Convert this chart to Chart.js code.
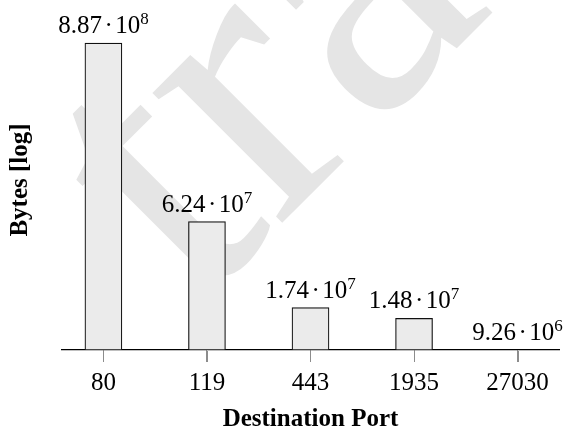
<!DOCTYPE html>
<html>
<head>
<meta charset="utf-8">
<script src="https://cdn.jsdelivr.net/npm/chart.js@4.4.1/dist/chart.umd.min.js"></script>
<style>
  html, body { margin: 0; padding: 0; background: #fff; }
  canvas { display: block; }
</style>
</head>
<body>
<canvas id="ports" width="569" height="432"></canvas>
<script>
(function () {
    'use strict';

    var ports = ['80', '119', '443', '1935', '27030'];
    var bytes = [8.87e8, 6.24e7, 1.74e7, 1.48e7, 9.26e6];
    var yMin = 9.26e6;
    var yMax = 1.45e9;
    var watermark = 'tra';

    var SERIF = '"Liberation Serif", "Times New Roman", serif';

    // big grey text behind the plot, like the page watermark
    var watermarkPlugin = {
        id: 'watermark',
        beforeDraw: function (chart) {
            var ctx = chart.ctx;
            ctx.save();
            ctx.fillStyle = '#fff';
            ctx.fillRect(0, 0, chart.width, chart.height);
            ctx.translate(198, 307);
            ctx.rotate(-Math.PI / 4);
            ctx.font = '400px ' + SERIF;
            ctx.fillStyle = '#e5e5e5';
            ctx.textBaseline = 'alphabetic';
            ctx.fillText(watermark, 0, 0);
            ctx.restore();
        }
    };

    // small grey tick marks under the axis, at the scale's own tick positions
    var tickMarks = {
        id: 'tickMarks',
        afterDraw: function (chart) {
            var sc = chart.scales.x;
            var ctx = chart.ctx;
            ctx.save();
            ctx.strokeStyle = '#8c8c8c';
            ctx.lineWidth = 1;
            sc.ticks.forEach(function (t, i) {
                var x = Math.round(sc.getPixelForTick(i)) + 0.5;
                ctx.beginPath();
                ctx.moveTo(x, sc.top + 1);
                ctx.lineTo(x, sc.top + 12);
                ctx.stroke();
            });
            ctx.restore();
        }
    };

    // "8.87 · 10^8" above each bar
    var valueLabels = {
        id: 'valueLabels',
        afterDatasetsDraw: function (chart) {
            var ctx = chart.ctx;
            var meta = chart.getDatasetMeta(0);
            var big = '25px ' + SERIF;
            var small = '17px ' + SERIF;
            ctx.save();
            ctx.fillStyle = '#000';
            ctx.textBaseline = 'alphabetic';
            ctx.textAlign = 'left';
            meta.data.forEach(function (bar, i) {
                var parts = bytes[i].toExponential(2).split('e');
                var mant = parts[0];
                var exp = String(parseInt(parts[1], 10));
                var gap = 2.5;
                ctx.font = big;
                var wM = ctx.measureText(mant).width;
                var wD = ctx.measureText('\u00b7').width;
                var wT = ctx.measureText('10').width;
                ctx.font = small;
                var wE = ctx.measureText(exp).width;
                var total = wM + gap + wD + gap + wT + wE;
                var x = bar.x - total / 2;
                if (x + total > chart.width - 2) { x = chart.width - 2 - total; }
                var y = bar.y - 10;
                ctx.font = big;
                ctx.fillText(mant, x, y);
                x += wM + gap;
                ctx.fillText('\u00b7', x, y);
                x += wD + gap;
                ctx.fillText('10', x, y);
                x += wT;
                ctx.font = small;
                ctx.fillText(exp, x, y - 9);
            });
            ctx.restore();
        }
    };

    var ctx = document.getElementById('ports');
    new Chart(ctx, {
        type: 'bar',
        data: {
            datasets: [{
                data: bytes.map(function (v, i) { return { x: i, y: v }; }),
                backgroundColor: '#ebebeb',
                borderColor: '#111',
                borderWidth: 1.2,
                borderSkipped: false,
                barThickness: 37
            }]
        },
        options: {
            responsive: false,
            devicePixelRatio: 1,
            animation: false,
            layout: { padding: { top: 10, right: 10, left: 0, bottom: 0 } },
            plugins: { legend: { display: false }, tooltip: { enabled: false } },
            scales: {
                x: {
                    type: 'linear',
                    offset: false,
                    min: -0.4,
                    max: 4.4,
                    afterBuildTicks: function (scale) {
                        scale.ticks = ports.map(function (p, i) { return { value: i }; });
                    },
                    afterFit: function (scale) { scale.height = 82; },
                    grid: { offset: false, drawOnChartArea: false, drawTicks: true, tickLength: 12, tickColor: '#8c8c8c', tickWidth: 1 },
                    border: { display: true, color: '#000', width: 1.3 },
                    ticks: {
                        autoSkip: false,
                        maxRotation: 0,
                        padding: 6,
                        color: '#000',
                        font: { family: SERIF, size: 25 },
                        callback: function (v) { return ports[v]; }
                    },
                    title: {
                        display: true,
                        text: 'Destination Port',
                        color: '#000',
                        font: { family: SERIF, size: 25, weight: 'bold', lineHeight: 1 },
                        padding: { top: 0, bottom: 0 }
                    }
                },
                y: {
                    type: 'logarithmic',
                    min: yMin,
                    max: yMax,
                    afterFit: function (scale) { scale.width = 62; },
                    grid: { display: false },
                    border: { display: false },
                    ticks: { display: false },
                    title: {
                        display: true,
                        text: 'Bytes [log]',
                        color: '#000',
                        font: { family: SERIF, size: 25, weight: 'bold', lineHeight: 1 },
                        padding: { top: 7.6, bottom: 0 }
                    }
                }
            }
        },
        plugins: [watermarkPlugin, tickMarks, valueLabels]
    });
})();
</script>
</body>
</html>
